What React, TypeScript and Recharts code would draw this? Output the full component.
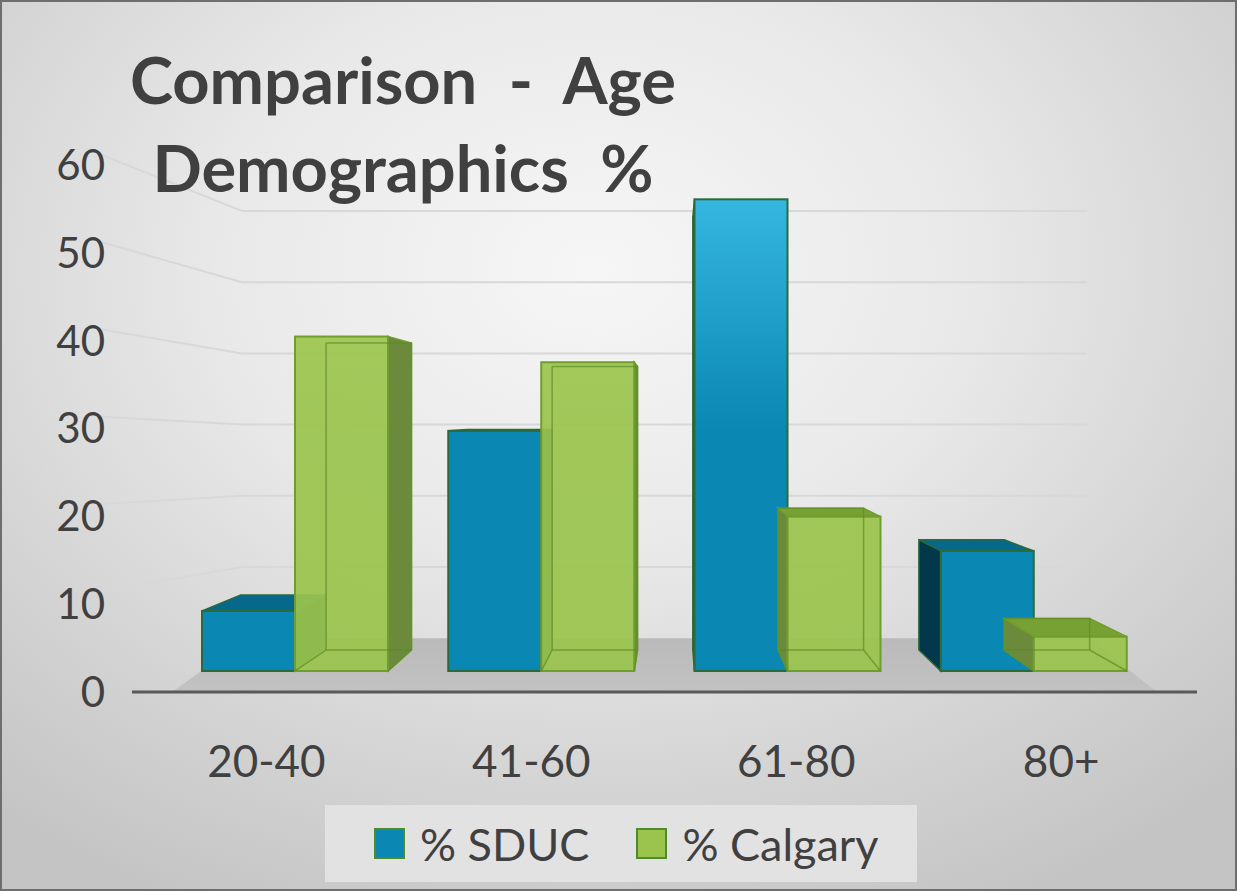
import { BarChart, Bar, XAxis, YAxis, CartesianGrid, Legend, ReferenceArea } from "recharts";

const categories = ["20-40", "41-60", "61-80", "80+"];
const sduc = [7, 28, 55, 14];
const calgary = [39, 36, 18, 4];
const seriesNames = ["% SDUC", "% Calgary"];
const yTicks = [0, 10, 20, 30, 40, 50, 60];
const gridTicks = [10, 20, 30, 40, 50, 60];

const data = categories.map((age, i) => ({ age, sduc: sduc[i], calgary: calgary[i] }));

// perspective helpers (svg coords)
const VP = { x: 672, y: 413 };
const DEPTH = 0.082;
const LABEL_SPREAD = 1.0758;
const BAR_DOMAIN: [number, number] = [-2.45, 59];
const GRID_DOMAIN: [number, number] = [-7.56, 66.46];
const FONT = "Lato, 'Open Sans', sans-serif";
const TEXT = "#404040";

type Look = { front: string; frontTop: string; top: string; side: string; stroke: string; opacity: number; ghost?: string };

const blue: Look = { front: "#0a87b2", frontTop: "#36b8e2", top: "#06698c", side: "#03374c", stroke: "#2c6a3a", opacity: 1 };
const green: Look = { front: "#9ac44d", frontTop: "#a2ca55", top: "#78a134", side: "#6b8a3c", stroke: "#6f9d2e", opacity: 0.93, ghost: "rgba(95,140,40,0.7)" };

const back = (px: number, py: number) => [px + (VP.x - px) * DEPTH, py + (VP.y - py) * DEPTH];
const pts = (list: number[][]) => list.map((p) => p.join(",")).join(" ");

function makeBar3D(look: Look, key: string) {
  return (props: any) => {
    const { x, y, width: w, height: h, index } = props;
    if (!h || h <= 0) return null;
    const tl = [x, y], tr = [x + w, y], bl = [x, y + h], br = [x + w, y + h];
    const btl = back(x, y), btr = back(x + w, y), bbl = back(x, y + h), bbr = back(x + w, y + h);
    const gid = `g-${key}-${index}`;
    return (
      <g>
        <defs>
          <linearGradient id={gid} gradientUnits="userSpaceOnUse" x1="0" y1="190" x2="0" y2="670">
            <stop offset="0" stopColor={look.frontTop} />
            <stop offset="0.5" stopColor={look.front} />
            <stop offset="1" stopColor={look.front} />
          </linearGradient>
        </defs>
        {y > VP.y && <polygon points={pts([tl, tr, btr, btl])} fill={look.top} stroke={look.stroke} strokeWidth={1.5} />}
        {x + w < VP.x && <polygon points={pts([tr, br, bbr, btr])} fill={look.side} stroke={look.stroke} strokeWidth={1.5} />}
        {x > VP.x && <polygon points={pts([tl, bl, bbl, btl])} fill={look.side} stroke={look.stroke} strokeWidth={1.5} />}
        <rect x={x} y={y} width={w} height={h} fill={`url(#${gid})`} fillOpacity={look.opacity} stroke={look.stroke} strokeWidth={2} />
        {look.ghost && (
          <polyline points={pts([btl, btr, bbr, bbl, btl])} fill="none" stroke={look.ghost} strokeWidth={1.5} />
        )}
        {look.ghost && <polyline points={pts([bl, bbl])} fill="none" stroke={look.ghost} strokeWidth={1.5} />}
        {look.ghost && <polyline points={pts([br, bbr])} fill="none" stroke={look.ghost} strokeWidth={1.5} />}
      </g>
    );
  };
}

const Floor = (props: any) => {
  const { x, y, width: w, height: h } = props;
  return (
    <g>
      <defs>
        <linearGradient id="floor" x1="0" y1="0" x2="0" y2="1">
          <stop offset="0" stopColor="#bababa" />
          <stop offset="1" stopColor="#c2c2c2" />
        </linearGradient>
      </defs>
      <polygon points={pts([[x, y + h], [x + w, y + h], [x + w - 68, y], [x + 75, y]])} fill="url(#floor)" />
    </g>
  );
};

const gridLine = (props: any) => {
  const { x1, x2, y1, index } = props;
  // only the inner gridlines, not the domain edges
  if (y1 < 190 || y1 > 620) return <g key={`gl-${index}`} />;
  const front = VP.y + (y1 - VP.y) / 0.816;
  return (
    <polyline
      key={`gl-${index}`}
      points={pts([[x1 - 30, front - 10], [x1 + 110, y1], [x2 - 110, y1]])}
      fill="none"
      stroke="#d8d8d8"
      strokeWidth={2}
    />
  );
};

const XTick = (props: any) => {
  const { x, y, payload } = props;
  const cx = VP.x + (x - VP.x) * LABEL_SPREAD;
  return (
    <text x={cx} y={y + 85} textAnchor="middle" fill={TEXT} fontSize={44} fontFamily={FONT}>
      {payload.value}
    </text>
  );
};

const renderLegend = (props: any) => {
  const items = [...(props.payload || [])].sort(
    (a: any, b: any) => seriesNames.indexOf(a.value) - seriesNames.indexOf(b.value)
  );
  return (
    <div
      style={{
        width: 592,
        height: 77,
        background: "#e2e2e2",
        display: "flex",
        alignItems: "center",
        fontFamily: FONT,
        fontSize: 45,
        color: TEXT,
        paddingLeft: 49,
        boxSizing: "border-box",
      }}
    >
      {items.map((entry: any, i: number) => (
        <span key={entry.value} style={{ display: "flex", alignItems: "center", marginLeft: i ? 47 : 0 }}>
          <span
            style={{
              width: 27,
              height: 27,
              background: entry.color,
              border: "2px solid #4f8a2c",
              marginRight: 15,
              display: "inline-block",
            }}
          />
          <span>{entry.value}</span>
        </span>
      ))}
    </div>
  );
};

export default function App() {
  return (
    <div
      style={{
        position: "relative",
        width: 1237,
        height: 891,
        boxSizing: "border-box",
        border: "2px solid #6e6e6e",
        background: "radial-gradient(ellipse 75% 80% at 48% 30%, #f6f6f6 0%, #e9e9e9 40%, #d3d3d3 75%, #c4c4c4 100%)",
        overflow: "hidden",
      }}
    >
      <style>{"body{margin:0}"}</style>
      <div style={{ position: "absolute", left: 0, top: 0 }}>
        <BarChart
          width={1237}
          height={891}
          data={data}
          margin={{ top: 163, right: 42, bottom: 101, left: 0 }}
          barGap={0}
          barSize={93}
        >
          <XAxis
            dataKey="age"
            height={100}
            padding={{ left: 40, right: 40 }}
            tick={<XTick />}
            tickLine={false}
            tickSize={0}
            tickMargin={0}
            axisLine={{ stroke: "#595959", strokeWidth: 3 }}
          />
          <YAxis
            yAxisId="left"
            width={130}
            domain={[0, 60]}
            ticks={yTicks}
            allowDataOverflow
            axisLine={false}
            tickLine={false}
            tickSize={0}
            tickMargin={27}
            tick={{ fill: TEXT, fontSize: 42, fontFamily: FONT }}
          />
          <YAxis yAxisId="bars" hide width={0} orientation="right" domain={BAR_DOMAIN} allowDataOverflow />
          <YAxis yAxisId="grid" hide width={0} orientation="right" domain={GRID_DOMAIN} ticks={gridTicks} allowDataOverflow />
          <CartesianGrid yAxisId="grid" vertical={false} horizontal={gridLine} />
          <ReferenceArea yAxisId="grid" y1={GRID_DOMAIN[0]} y2={0} shape={<Floor />} />
          <Bar
            yAxisId="bars"
            dataKey="sduc"
            name="% SDUC"
            fill={blue.front}
            shape={makeBar3D(blue, "s")}
            isAnimationActive={false}
          />
          <Bar
            yAxisId="bars"
            dataKey="calgary"
            name="% Calgary"
            fill={green.front}
            shape={makeBar3D(green, "c")}
            isAnimationActive={false}
          />
          <Legend
            layout="horizontal"
            verticalAlign="middle"
            align="center"
            content={renderLegend}
            wrapperStyle={{ left: 323, top: 803, width: 592, height: 77 }}
          />
        </BarChart>
      </div>
      <div
        style={{
          position: "absolute",
          left: 0,
          top: 33,
          width: 802,
          textAlign: "center",
          fontFamily: FONT,
          fontWeight: 700,
          fontSize: 65,
          lineHeight: "88px",
          color: TEXT,
          whiteSpace: "pre",
        }}
      >
        {"Comparison  -  Age\nDemographics  %"}
      </div>
    </div>
  );
}
